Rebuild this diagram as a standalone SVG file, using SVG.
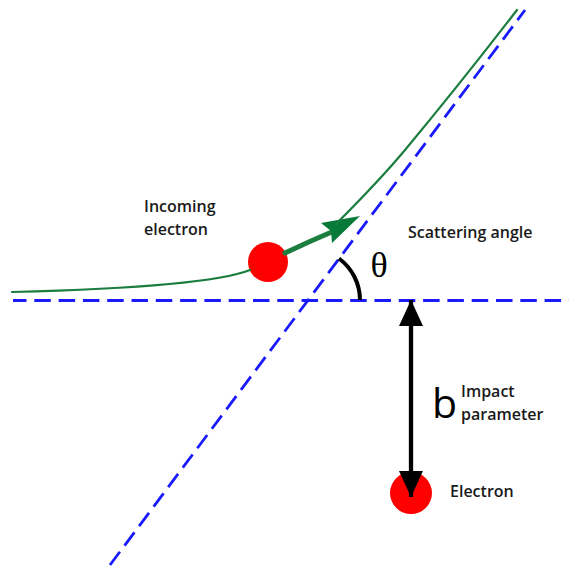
<svg xmlns="http://www.w3.org/2000/svg" width="569" height="568" viewBox="0 0 569 568">
  <style>
    .dash { stroke: #1a1aff; stroke-width: 2.8; stroke-dasharray: 16.5 7.8; fill: none; }
    .traj { stroke: #1b7d3e; fill: none; stroke-linecap: round; }
    .lbl { font-family: "Open Sans", "Liberation Sans", sans-serif; font-weight: 600; font-size: 16px; fill: #1a1a1a; }
  </style>
  <defs>
    <marker id="blackHead" viewBox="0 0 26 24" refX="26" refY="12" markerWidth="26" markerHeight="24" markerUnits="userSpaceOnUse" orient="auto-start-reverse">
      <path d="M0,0 L26,12 L0,24 Z" fill="#000"/>
    </marker>
  </defs>
  <rect width="569" height="568" fill="#fff"/>

  <g id="incoming-electron">
    <circle cx="268" cy="262" r="20" fill="#ff0000"/>
    <text class="lbl" x="144" y="211.5">Incoming</text>
    <text class="lbl" x="144" y="235">electron</text>
  </g>

  <g id="target-electron">
    <circle cx="411" cy="493" r="21" fill="#ff0000"/>
    <text class="lbl" x="450" y="497">Electron</text>
  </g>

  <g id="scattering-angle">
    <text class="lbl" x="408" y="238">Scattering angle</text>
    <text x="379" y="277" text-anchor="middle" font-family="'Liberation Serif', 'DejaVu Serif', serif" font-size="36" fill="#000">θ</text>
  </g>

  <g id="impact-parameter">
    <text x="432" y="418" font-family="'Open Sans', 'Liberation Sans', sans-serif" font-size="41" fill="#000">b</text>
    <text class="lbl" x="461" y="397">Impact</text>
    <text class="lbl" x="461" y="420">parameter</text>
  </g>

  <g id="connectors">
    <line id="axis-horizontal" class="dash" x1="13" y1="300.5" x2="569" y2="300.5" stroke-dashoffset="3"/>
    <line id="axis-diagonal" class="dash" x1="110" y1="565" x2="525" y2="10"/>
    <path id="trajectory-in" class="traj" stroke-width="2.2" d="M12,292 C130,289 220,282 250,270"/>
    <path id="trajectory-thick" class="traj" stroke-width="5" d="M285,253 Q308,242 334,231"/>
    <polygon id="trajectory-arrowhead" points="360,216 321,223 331,231 332,243" fill="#077a3a"/>
    <path id="trajectory-out" class="traj" stroke-width="2.2" d="M336,224 C360,200 380,180 405,150 C440,108 480,58 517,10"/>
    <path id="angle-arc" d="M339,258.5 A52,52 0 0 1 360,300" fill="none" stroke="#000" stroke-width="4"/>
    <line id="impact-arrow" x1="411" y1="300" x2="411" y2="497" stroke="#000" stroke-width="4.3" marker-start="url(#blackHead)" marker-end="url(#blackHead)"/>
  </g>
</svg>
